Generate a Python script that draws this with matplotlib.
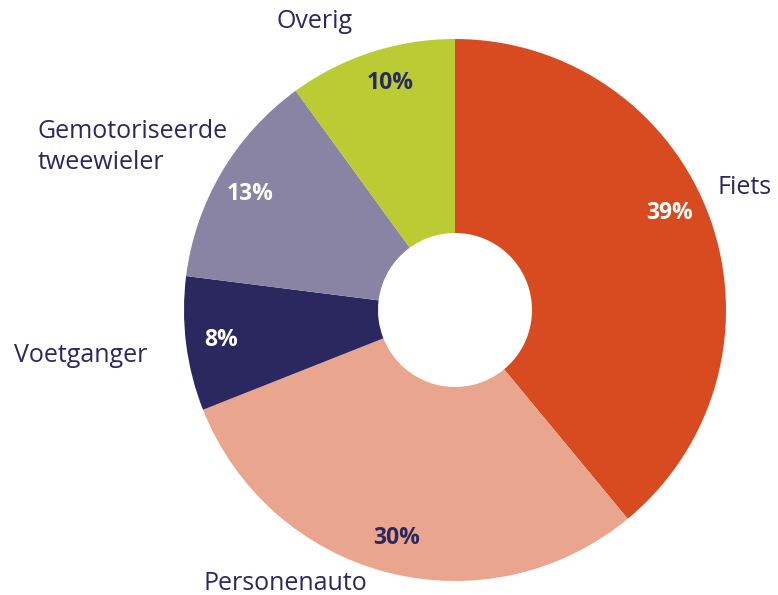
import numpy as np
import matplotlib.pyplot as plt

labels = ['Fiets', 'Personenauto', 'Voetganger', 'Gemotoriseerde\ntweewieler', 'Overig']
shares = [39, 30, 8, 13, 10]
colors = ['#D84B20', '#E9A58D', '#2A285F', '#8983A4', '#BACB33']
pct_colors = ['white', '#2A285F', 'white', 'white', '#2A285F']
navy = '#2A285F'

plt.rcParams['font.family'] = ['Open Sans', 'DejaVu Sans']

W, H = 778, 595
cx, cy, R = 455, 310, 271  # pixel centre and outer radius

fig = plt.figure(figsize=(W / 100, H / 100), dpi=100)
ax = fig.add_axes([0, 0, 1, 1])

wedges, _ = ax.pie(shares, colors=colors, startangle=90, counterclock=False,
                   radius=1, wedgeprops=dict(width=1 - 77 / R, linewidth=0))
ax.set_xlim(-cx / R, (W - cx) / R)
ax.set_ylim(-(H - cy) / R, cy / R)
ax.set_aspect('equal')
ax.axis('off')

# percentage labels inside the ring
nudge = [4.5, 0, 0, 1, -2]
for w, s, c, d in zip(wedges, shares, pct_colors, nudge):
    ang = np.deg2rad((w.theta1 + w.theta2) / 2 + d)
    ax.text(0.87 * np.cos(ang), 0.87 * np.sin(ang), f'{s}%', color=c,
            fontsize=16.5, fontweight='bold', ha='center', va='center')

# category labels, placed by hand as in the original
def px(x, y):
    return (x - cx) / R, (cy - y) / R

fs = 18
ax.text(*px(717, 188), labels[0], color=navy, fontsize=fs, ha='left', va='center')
ax.text(*px(285, 583), labels[1], color=navy, fontsize=fs, ha='center', va='center')
ax.text(*px(14, 355), labels[2], color=navy, fontsize=fs, ha='left', va='center')
ax.text(*px(38, 147), labels[3], color=navy, fontsize=fs, ha='left', va='center',
        linespacing=1.3)
ax.text(*px(315, 22), labels[4], color=navy, fontsize=fs, ha='center', va='center')

fig.savefig('out.png', dpi=100, facecolor='white')
